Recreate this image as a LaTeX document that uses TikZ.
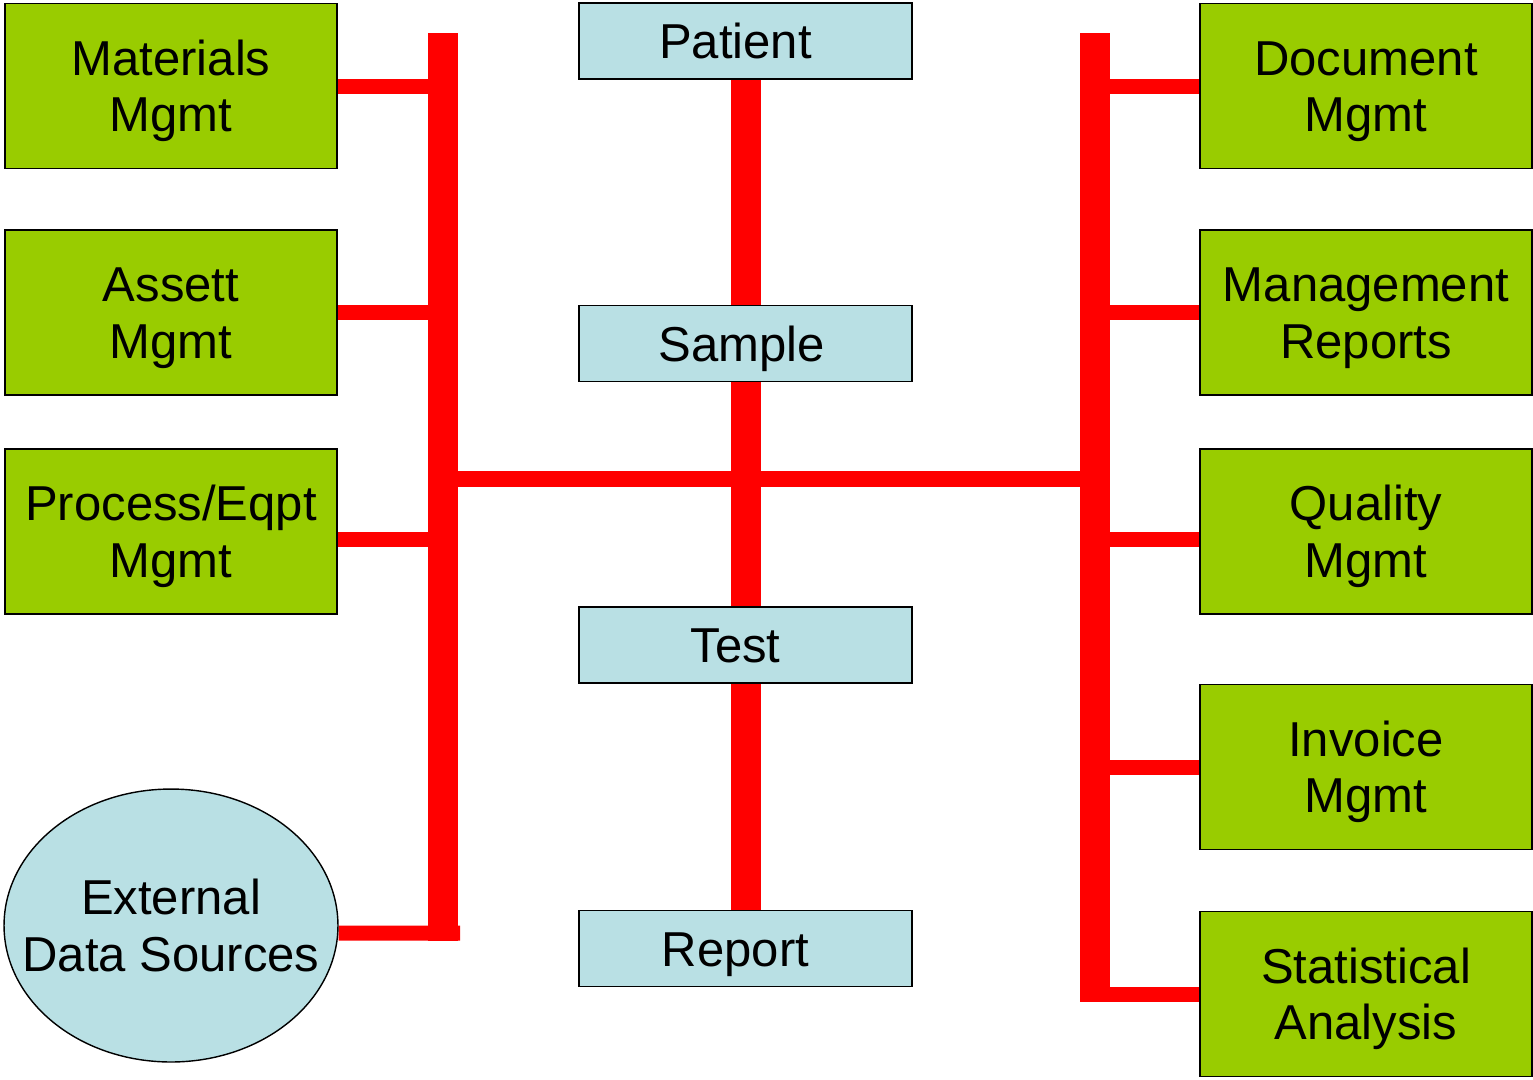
\documentclass[tikz,border=0pt]{standalone}
\usepackage{fontspec}
\setmainfont{Liberation Sans}
\usepackage{tikz}
\usetikzlibrary{calc}
\usetikzlibrary{shapes.geometric,backgrounds}

\definecolor{boxgreen}{HTML}{99CC00}
\definecolor{boxblue}{HTML}{B9E0E4}

\begin{document}
\begin{tikzpicture}[x=0.02cm, y=-0.02cm,
		greenbox/.style={rectangle, draw=black, line width=1pt, fill=boxgreen, minimum width=6.64cm, minimum height=3.3cm, inner sep=0pt, align=center, font=\fontsize{27.9pt}{31.9pt}\selectfont, text height=1.82cm, text depth=0pt},
		bluebox/.style={rectangle, draw=black, line width=1pt, fill=boxblue, minimum width=6.66cm, minimum height=1.52cm, inner sep=0pt, font=\fontsize{27.9pt}{31.9pt}\selectfont, text height=0.7cm, text depth=0pt, execute at end node={\hspace*{#1}}},
		bluebox/.default=0.4cm,
		bus/.style={draw=red, line width=0.6cm},
		branch/.style={draw=red, line width=0.3cm}]
			\useasboundingbox (0,0) rectangle (1533,1079);

			\node[greenbox] (materials) at (171,86) {Materials\\Mgmt};
			\node[greenbox] (assett) at (171,312.5) {Assett\\Mgmt};
			\node[greenbox] (process) at (171,531.5) {Process/Eqpt\\Mgmt};
			\node[ellipse, draw=black, line width=0.8pt, fill=boxblue, minimum width=6.68cm, minimum height=5.46cm, inner sep=0pt, align=center, font=\fontsize{27.9pt}{31.9pt}\selectfont, text height=1.82cm, text depth=0pt] (external) at (171,925.5) {\makebox[0pt]{External}\\\makebox[0pt]{Data Sources}};

			\node[bluebox] (patient) at (745.5,41) {Patient};
			\node[bluebox=0.15cm] (sample) at (745.5,343.5) {Sample};
			\node[bluebox] (test) at (745.5,645) {Test};
			\node[bluebox] (report) at (745.5,948.5) {Report};

			\node[greenbox] (document) at (1366,86) {Document\\Mgmt};
			\node[greenbox] (mreports) at (1366,312.5) {Management\\Reports};
			\node[greenbox] (quality) at (1366,531.5) {Quality\\Mgmt};
			\node[greenbox] (invoice) at (1366,767) {Invoice\\Mgmt};
			\node[greenbox] (stats) at (1366,994) {Statistical\\Analysis};

			%bus ends
			\coordinate (ltop) at (443,33);
			\coordinate (lbot) at (443,941);
			\coordinate (lend) at (460,933);
			\coordinate (rtop) at (1094.5,33);
			\coordinate (rbot) at (1094.5,1002);

			\begin{scope}[on background layer]
			\draw[bus] (ltop) -- (lbot);
			\draw[bus] (rtop) -- (rbot);
			\draw[bus] (patient) -- (sample);
			\draw[bus] (sample) -- (test);
			\draw[bus] (test) -- (report);
			\draw[draw=red, line width=0.32cm] (ltop |- 0,479) -- (rtop |- 0,479);

			\draw[branch] (materials.east) -- (materials.east -| ltop);
			\draw[branch] (assett.east) -- (assett.east -| ltop);
			\draw[branch] ([yshift=-0.16cm]process.east) -- ([yshift=-0.16cm]process.east -| ltop);
			\draw[branch] ($(external.east)+(0,7.5)$) -- (lend);

			\draw[branch] (document.west) -- (document.west -| rtop);
			\draw[branch] (mreports.west) -- (mreports.west -| rtop);
			\draw[branch] ([yshift=-0.16cm]quality.west) -- ([yshift=-0.16cm]quality.west -| rtop);
			\draw[branch] (invoice.west) -- (invoice.west -| rtop);
			\draw[branch] (stats.west) -- (stats.west -| rtop);
			\end{scope}

		\end{tikzpicture}
\end{document}
